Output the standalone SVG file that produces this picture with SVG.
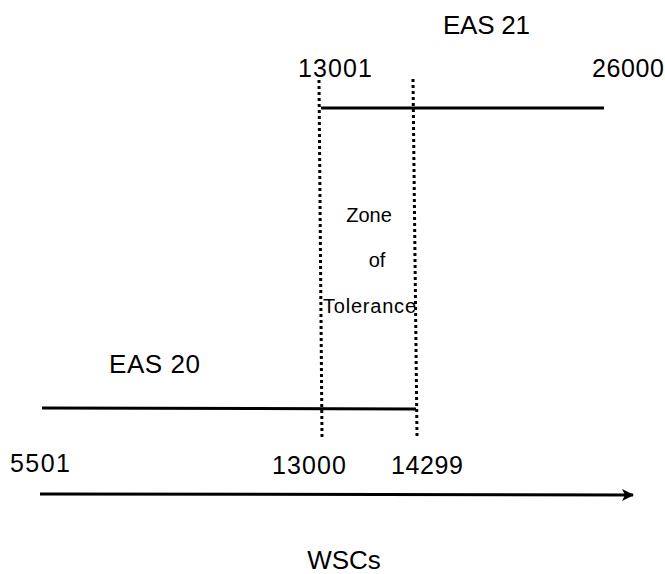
<svg xmlns="http://www.w3.org/2000/svg" width="665" height="574" viewBox="0 0 665 574">
<style>
text{font-family:"Liberation Sans",Arial,sans-serif;fill:#000}
.lbl{font-size:25px}
.big{font-size:26px}
.z{font-size:20px}
.solid{stroke:#000;stroke-width:3;fill:none}
.dot{stroke:#000;stroke-width:3;stroke-dasharray:3 3;fill:none}
</style>
<defs>
<marker id="ah" markerWidth="14" markerHeight="14" refX="11" refY="6" orient="auto" markerUnits="userSpaceOnUse">
<path d="M0,0 L12,6 L0,12 L3,6 Z" fill="#000"/>
</marker>
</defs>
<rect width="665" height="574" fill="#fff"/>
<g id="connectors">
<line class="dot" x1="319" y1="80" x2="322" y2="437"/>
<line class="dot" x1="413" y1="79" x2="417" y2="437"/>
<line class="solid" x1="321" y1="108" x2="604" y2="108"/>
<line class="solid" x1="42" y1="408" x2="416" y2="409"/>
<line class="solid" x1="40" y1="494" x2="633" y2="495" marker-end="url(#ah)"/>
</g>
<g id="eas21">
<text class="big" x="443" y="34" textLength="87">EAS 21</text>
<text class="lbl" x="298" y="77" textLength="74">13001</text>
<text class="lbl" x="592" y="77" textLength="72">26000</text>
</g>
<g id="zone">
<text class="z" x="369" y="222" text-anchor="middle">Zone</text>
<text class="z" x="377" y="267" text-anchor="middle">of</text>
<text class="z" x="323" y="313" textLength="93">Tolerance</text>
</g>
<g id="eas20">
<text class="big" x="109" y="373" textLength="91">EAS 20</text>
<text class="lbl" x="10" y="472" textLength="60">5501</text>
<text class="lbl" x="272" y="474" textLength="74">13000</text>
<text class="lbl" x="391" y="474" textLength="72">14299</text>
</g>
<g id="axis">
<text class="big" x="344" y="569" text-anchor="middle">WSCs</text>
</g>
</svg>
